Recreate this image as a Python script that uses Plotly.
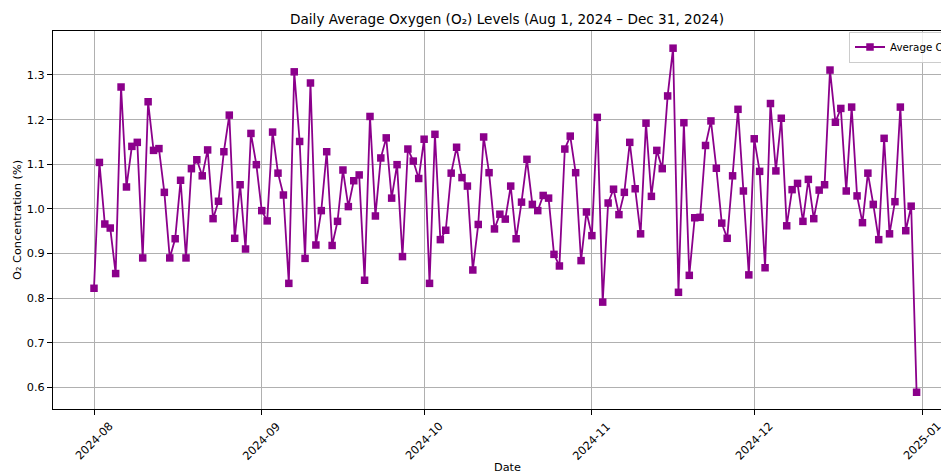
import pandas as pd
import plotly.graph_objects as go

dates = pd.date_range("2024-08-01", "2024-12-31", freq="D")
o2_values = [
    0.822, 1.104, 0.966, 0.957, 0.855, 1.273, 1.049, 1.140, 1.149, 0.890,
    1.240, 1.131, 1.135, 1.037, 0.890, 0.933, 1.064, 0.890, 1.090, 1.110,
    1.074, 1.132, 0.978, 1.017, 1.128, 1.210, 0.934, 1.054, 0.910, 1.169,
    1.099, 0.996, 0.973, 1.172, 1.080, 1.031, 0.833, 1.307, 1.151, 0.889,
    1.282, 0.919, 0.996, 1.128, 0.918, 0.972, 1.087, 1.005, 1.063, 1.076,
    0.840, 1.207, 0.984, 1.114, 1.159, 1.024, 1.099, 0.893, 1.134, 1.107,
    1.068, 1.156, 0.833, 1.167, 0.931, 0.952, 1.080, 1.138, 1.070, 1.051,
    0.863, 0.965, 1.161, 1.081, 0.955, 0.988, 0.977, 1.051, 0.933, 1.015,
    1.111, 1.010, 0.996, 1.030, 1.024, 0.898, 0.872, 1.134, 1.163, 1.081,
    0.884, 0.993, 0.940, 1.205, 0.791, 1.013, 1.044, 0.987, 1.037, 1.149,
    1.045, 0.944, 1.192, 1.028, 1.131, 1.090, 1.253, 1.360, 0.813, 1.193,
    0.851, 0.980, 0.981, 1.142, 1.197, 1.091, 0.968, 0.934, 1.074, 1.223,
    1.040, 0.852, 1.157, 1.084, 0.868, 1.236, 1.085, 1.203, 0.962, 1.043,
    1.057, 0.972, 1.066, 0.978, 1.042, 1.054, 1.311, 1.194, 1.225, 1.040,
    1.228, 1.029, 0.969, 1.080, 1.010, 0.931, 1.158, 0.944, 1.016, 1.228,
    0.951, 1.006, 0.589,
]
tick_dates = ["2024-08-01", "2024-09-01", "2024-10-01", "2024-11-01", "2024-12-01", "2025-01-01"]
tick_labels = ["2024-08", "2024-09", "2024-10", "2024-11", "2024-12", "2025-01"]
y_ticks = [0.6, 0.7, 0.8, 0.9, 1.0, 1.1, 1.2, 1.3]

COLOR = "#8B008B"
FONT = "DejaVu Sans"
TICK_SIZE = 11.3
TITLE_SIZE = 13.6
LEGEND_SIZE = 10.3

# layout geometry (figure pixels; the page adds an 8px body margin)
FIG_W, FIG_H = 953, 473
L, T, B_EDGE = 45, 23, 401
PLOT_W = FIG_W - L
PLOT_H = B_EDGE - T
px_per_day = 828 / 153
x_start = pd.Timestamp("2024-08-01") - pd.Timedelta(days=41 / px_per_day)
x_end = x_start + pd.Timedelta(days=PLOT_W / px_per_day)

fig = go.Figure()
fig.add_trace(go.Scatter(
    x=dates, y=o2_values, mode="lines+markers", name="Average O₂ Level",
    line=dict(color=COLOR, width=1.8),
    marker=dict(symbol="square", size=7.5, color=COLOR),
))

annotations = []
for d, lab in zip(tick_dates, tick_labels):
    annotations.append(dict(
        x=d, xref="x", y=-32.5 / PLOT_H, yref="paper", text=lab, showarrow=False,
        textangle=-45, xanchor="center", yanchor="middle",
        font=dict(family=FONT, size=TICK_SIZE, color="black"),
    ))
annotations.append(dict(
    x=(499 - L) / PLOT_W, xref="paper", y=-(459 - B_EDGE) / PLOT_H, yref="paper",
    text="Date", showarrow=False,
    xanchor="center", yanchor="middle", font=dict(family=FONT, size=TICK_SIZE, color="black"),
))
annotations.append(dict(
    x=-36 / PLOT_W, xref="paper", y=0.5, yref="paper", text="O₂ Concentration (%)",
    showarrow=False, textangle=-90, xanchor="center", yanchor="middle",
    font=dict(family=FONT, size=TICK_SIZE, color="black"),
))

fig.update_layout(
    width=FIG_W, height=FIG_H,
    margin=dict(l=L, r=0, t=T, b=FIG_H - B_EDGE, autoexpand=False),
    paper_bgcolor="white", plot_bgcolor="white",
    font=dict(family=FONT, size=TICK_SIZE, color="black"),
    title=dict(
        text="Daily Average Oxygen (O₂) Levels (Aug 1, 2024 – Dec 31, 2024)",
        x=499 / FIG_W, xref="container", xanchor="center",
        y=1 - 11 / FIG_H, yref="container", yanchor="middle",
        font=dict(family=FONT, size=TITLE_SIZE, color="black"),
    ),
    xaxis=dict(
        type="date",
        range=[x_start, x_end],
        tickvals=tick_dates, ticktext=tick_labels, showticklabels=False,
        ticks="outside", ticklen=5, tickcolor="black", tickwidth=1,
        showgrid=True, gridcolor="#b0b0b0", gridwidth=1,
        showline=True, linecolor="black", linewidth=1, mirror=True,
        zeroline=False,
    ),
    yaxis=dict(
        range=[0.5515, 1.3985],
        tickvals=y_ticks, ticktext=[f"{v:.1f}" for v in y_ticks],
        ticks="outside", ticklen=5, tickcolor="black", tickwidth=1,
        tickfont=dict(family=FONT, size=TICK_SIZE, color="black"),
        showgrid=True, gridcolor="#b0b0b0", gridwidth=1,
        showline=True, linecolor="black", linewidth=1, mirror=False,
        zeroline=False,
    ),
    showlegend=True,
    legend=dict(
        x=(841 - L) / PLOT_W, xanchor="left", y=1 - 16 / PLOT_H, yanchor="middle",
        bgcolor="rgba(255,255,255,0.8)", bordercolor="#cccccc", borderwidth=1,
        font=dict(family=FONT, size=LEGEND_SIZE, color="black"),
    ),
    annotations=annotations,
)

fig.write_html("out.html")
